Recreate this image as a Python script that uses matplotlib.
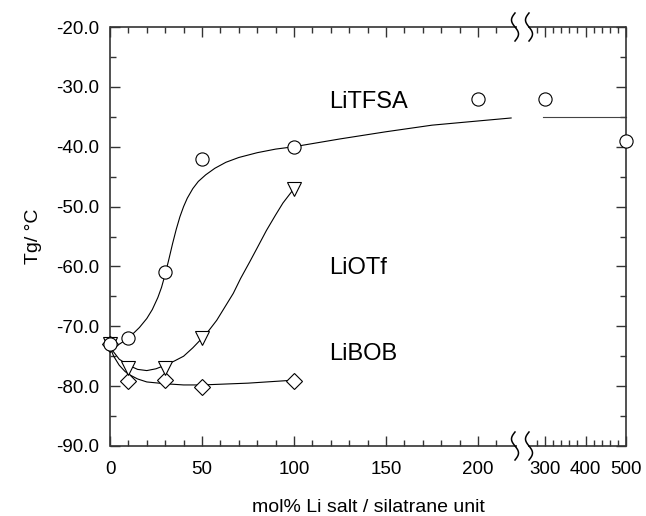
import numpy as np
import matplotlib.pyplot as plt
from matplotlib.ticker import FixedLocator, FormatStrFormatter

plt.rcParams['font.family'] = ['Liberation Sans', 'DejaVu Sans']

# measured Tg values
tfsa_x = [0, 10, 30, 50, 100, 200, 300, 500]
tfsa_y = [-73, -72, -61, -42, -40, -32, -32, -39]
otf_x = [0, 10, 30, 50, 100]
otf_y = [-73, -77, -77, -72, -47]
bob_x = [0, 10, 30, 50, 100]
bob_y = [-73, -79.1, -79, -80.1, -79.1]

# guide-to-the-eye curves
tfsa_fit_x = [0, 4, 8, 12, 16, 20, 23, 26, 28, 30, 32, 34, 36, 38, 40, 42, 45,
              48, 52, 57, 63, 70, 80, 90, 100, 125, 150, 175, 200, 218]
tfsa_fit_y = [-74, -73.2, -72.4, -71.4, -70.2, -68.7, -67.2, -65.2, -63.5, -61.3,
              -58.8, -56.2, -53.8, -51.7, -50, -48.6, -47, -45.8, -44.7, -43.6,
              -42.6, -41.8, -41, -40.4, -40, -38.7, -37.5, -36.4, -35.7, -35.2]
tfsa_tail_x = [295, 500]
tfsa_tail_y = [-35, -35]
otf_fit_x = [0, 5, 10, 15, 20, 25, 30, 35, 40, 45, 50, 54, 58, 62, 67, 71, 76,
             80, 85, 90, 94, 100]
otf_fit_y = [-73.5, -75.5, -76.5, -77.2, -77.4, -77.1, -76.5, -75.8, -75, -73.6,
             -72, -70.6, -69, -67, -64.5, -62, -59.2, -56.9, -54, -51.4, -49.4, -47]
bob_fit_x = [0, 2, 5, 8, 10, 15, 20, 30, 40, 50, 75, 100]
bob_fit_y = [-73.5, -75, -76.5, -77.5, -78, -78.8, -79.3, -79.6, -79.8, -79.8,
             -79.5, -79]

major_x = [0, 50, 100, 150, 200, 300, 400, 500]
minor_x = [x for x in range(10, 220, 10) if x % 50] + [280, 320, 340, 360, 380,
                                                        420, 440, 460, 480]


# broken x axis: 0-220 linear, 300-500 compressed
def fwd(x):
    x = np.asarray(x, float)
    return np.where(x <= 220, 1.84 * x,
                    np.where(x >= 270, 435 + 0.405 * (x - 300),
                             404.8 + (x - 220) * 18.05 / 50))


def inv(u):
    u = np.asarray(u, float)
    return np.where(u <= 404.8, u / 1.84,
                    np.where(u >= 422.85, 300 + (u - 435) / 0.405,
                             220 + (u - 404.8) * 50 / 18.05))


fig = plt.figure(figsize=(6.46, 5.16), dpi=100)
ax = fig.add_axes([110 / 646, 70 / 516, 516 / 646, 419 / 516])
ax.set_xscale('function', functions=(fwd, inv))
ax.set_xlim(0, 500)
ax.set_ylim(-90, -20)

lw = 0.8
ax.plot(tfsa_fit_x, tfsa_fit_y, '-', color='black', lw=lw, zorder=2)
ax.plot(tfsa_tail_x, tfsa_tail_y, '-', color='#444444', lw=lw, zorder=2, clip_on=False)
ax.plot(otf_fit_x, otf_fit_y, '-', color='black', lw=lw, zorder=2)
ax.plot(bob_fit_x, bob_fit_y, '-', color='black', lw=lw, zorder=2)

mk = dict(linestyle='none', markerfacecolor='white', markeredgecolor='black',
          markeredgewidth=0.8, clip_on=False, zorder=3)
ax.plot(bob_x, bob_y, marker='D', markersize=8.5, **mk)
ax.plot(otf_x, otf_y, marker='v', markersize=10, **mk)
ax.plot(tfsa_x, tfsa_y, marker='o', markersize=9.5, **mk)

ax.text(119, -32.5, 'LiTFSA', fontsize=17, va='center', ha='left')
ax.text(119, -60.2, 'LiOTf', fontsize=17, va='center', ha='left')
ax.text(119, -74.6, 'LiBOB', fontsize=17, va='center', ha='left')

ax.xaxis.set_major_locator(FixedLocator(major_x))
ax.xaxis.set_minor_locator(FixedLocator(minor_x))
ax.xaxis.set_major_formatter(FormatStrFormatter('%d'))
ax.yaxis.set_major_locator(FixedLocator(np.arange(-90, -19, 10)))
ax.yaxis.set_minor_locator(FixedLocator(np.arange(-85, -20, 10)))
ax.yaxis.set_major_formatter(FormatStrFormatter('%.1f'))

spine_c = '#333333'
ax.tick_params(which='both', direction='in', top=True, right=True,
               color=spine_c, width=1.0, labelsize=13.5, pad=8)
ax.tick_params(which='major', length=7)
ax.tick_params(which='minor', length=4)
ax.tick_params(axis='x', pad=11)

for side in ['left', 'right']:
    ax.spines[side].set_color(spine_c)
    ax.spines[side].set_linewidth(1.2)
ax.spines['top'].set_visible(False)
ax.spines['bottom'].set_visible(False)

# top and bottom spines with a gap at the axis break
aw, ah = 516.0, 419.0
g0, g1 = 407 / aw, 418 / aw
for yy in [0, 1]:
    ax.plot([0, g0], [yy, yy], color=spine_c, lw=1.2, transform=ax.transAxes,
            clip_on=False, solid_capstyle='butt')
    ax.plot([g1, 1], [yy, yy], color=spine_c, lw=1.2, transform=ax.transAxes,
            clip_on=False, solid_capstyle='butt')

# break marks
s = np.linspace(0, 1, 40)
for cx in [405, 419]:
    for yy in [0, 1]:
        px = cx - 3.5 * np.sin(2 * np.pi * s)
        py = 14 - 28 * s
        ax.plot(px / aw, yy + py / ah, color='black', lw=1.1,
                transform=ax.transAxes, clip_on=False)

ax.set_xlabel('mol% Li salt / silatrane unit', fontsize=14, labelpad=15)
ax.set_ylabel('Tg/ °C', fontsize=14, labelpad=10)

fig.savefig('out.png', dpi=100)
